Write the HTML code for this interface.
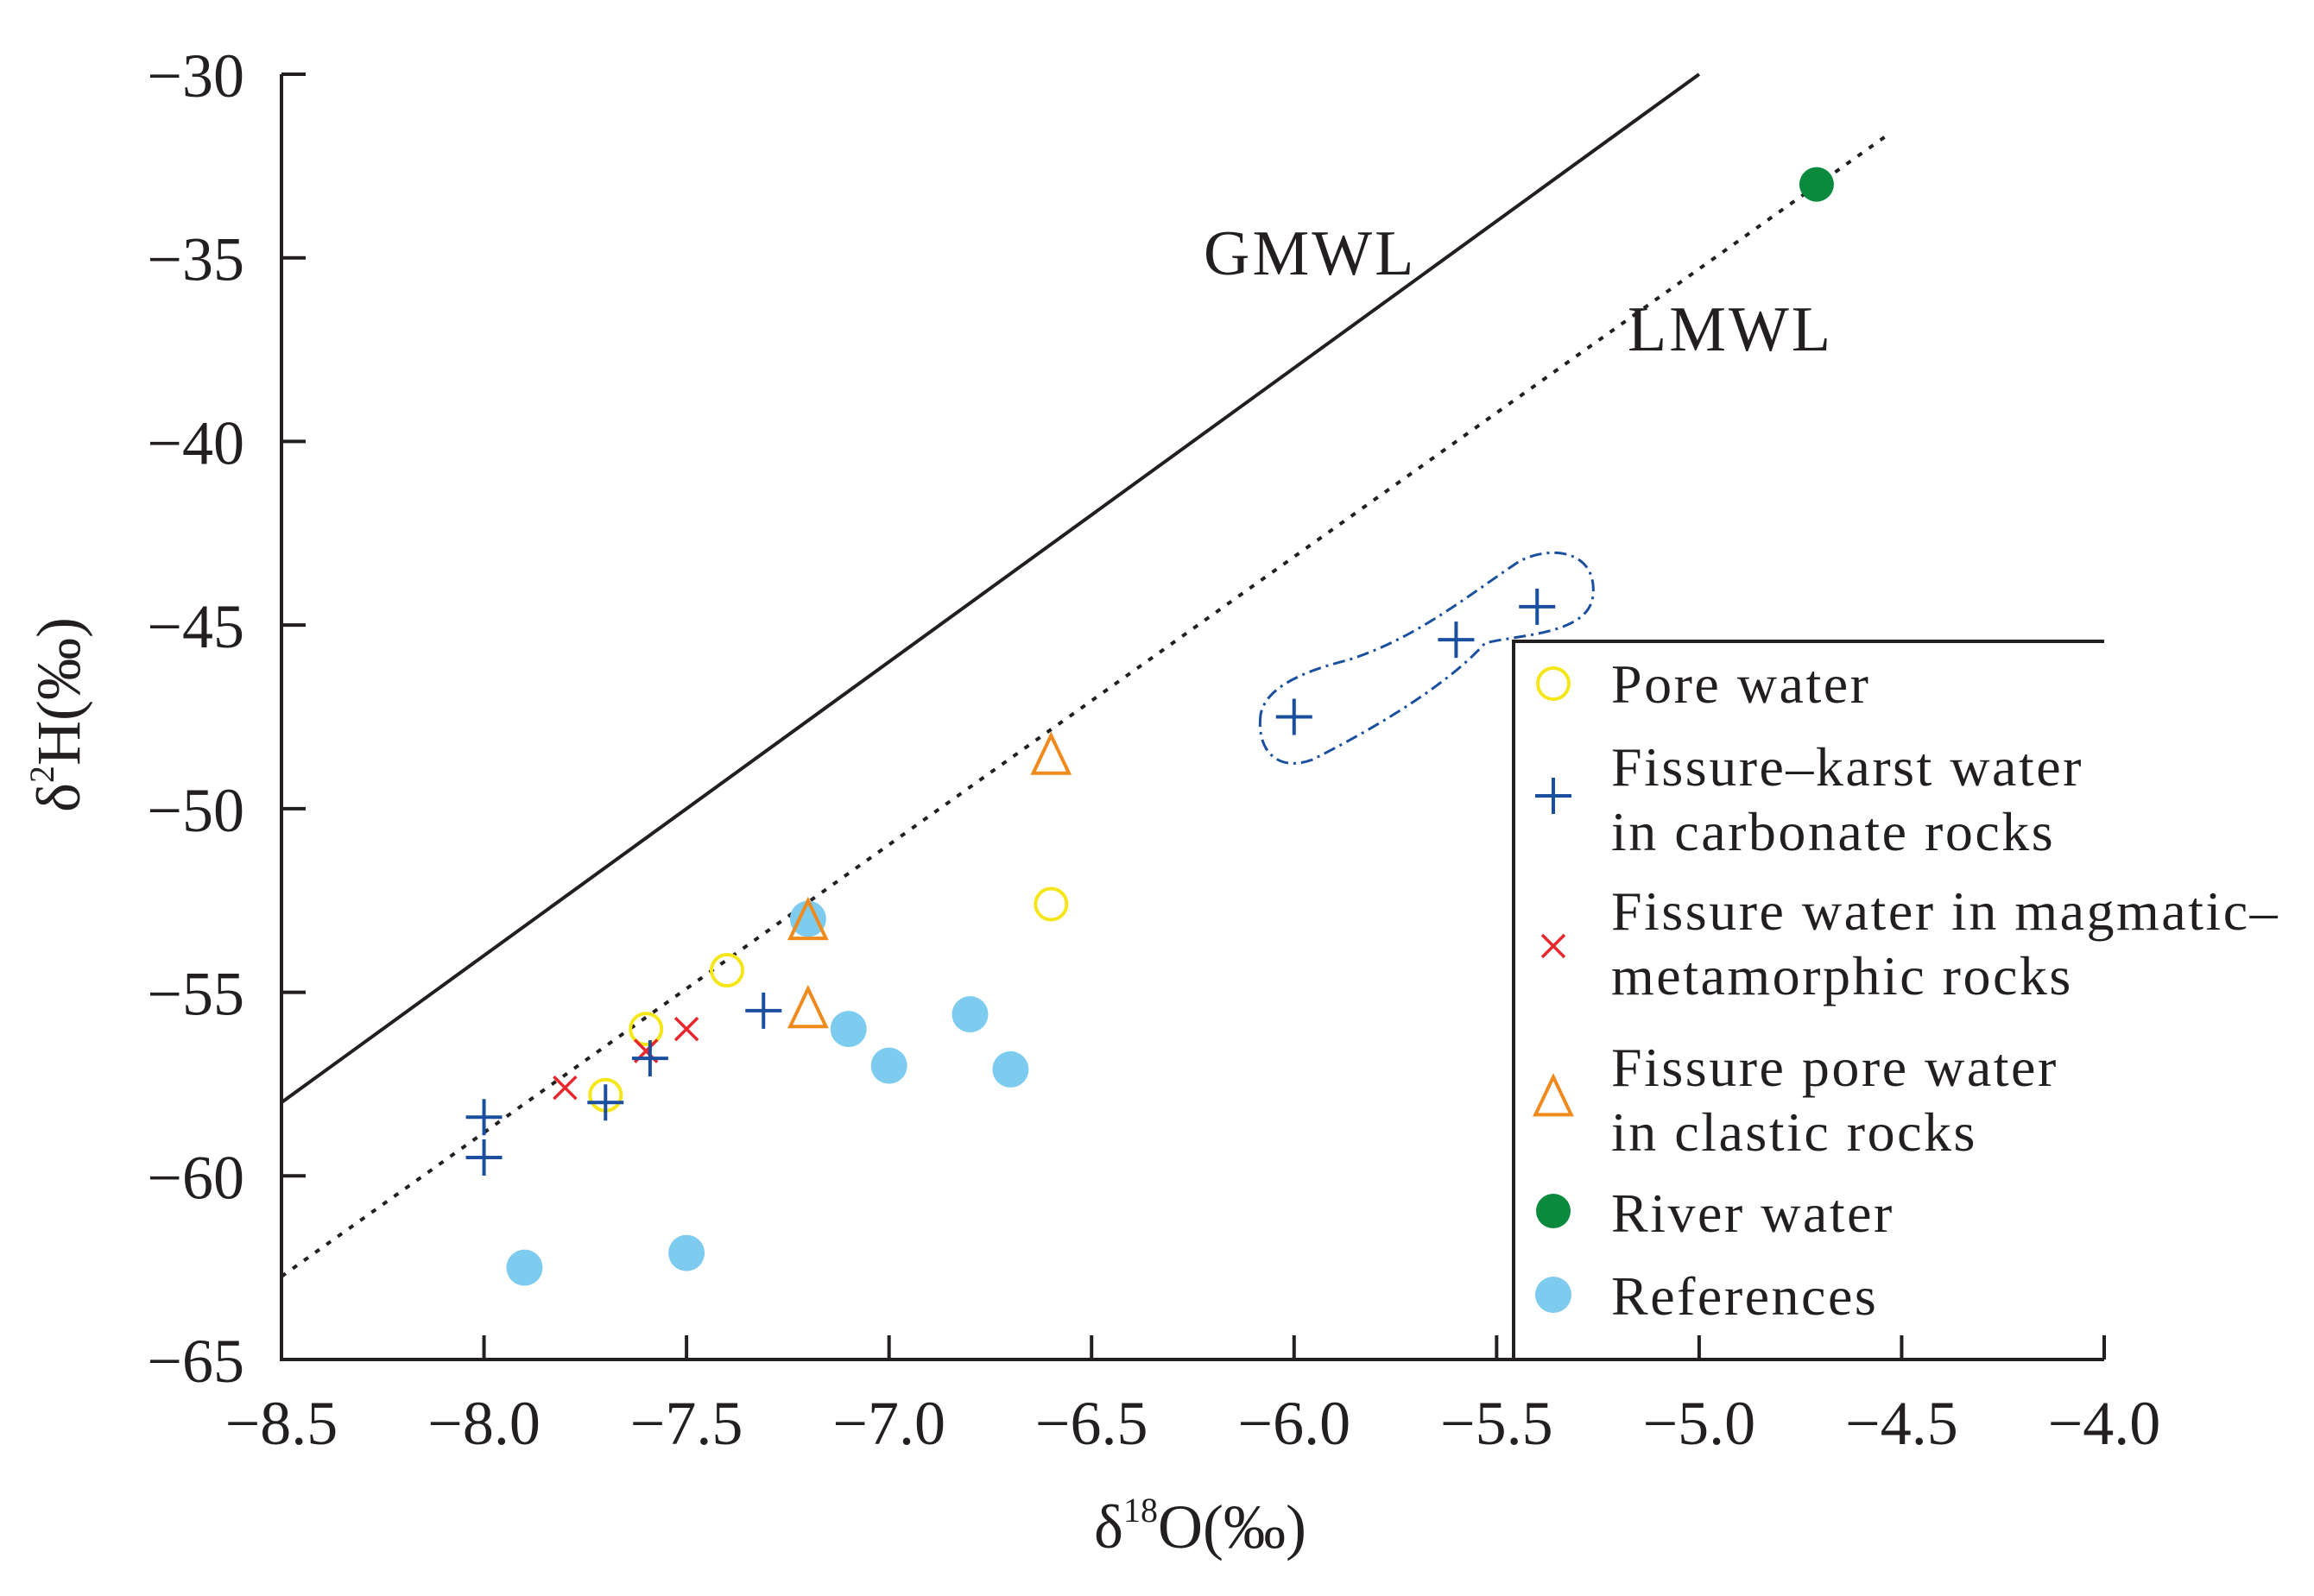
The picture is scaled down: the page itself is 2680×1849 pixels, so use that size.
<!DOCTYPE html>
<html><head><meta charset="utf-8"><style>
html,body{margin:0;padding:0;background:#fff;}
svg text{font-family:"Liberation Serif",serif;fill:#231f20;}
</style></head><body>
<svg id="chart" width="2680" height="1844" viewBox="0 0 2680 1844" xmlns="http://www.w3.org/2000/svg"></svg>
<script>
const xTicks=[-8.5,-8.0,-7.5,-7.0,-6.5,-6.0,-5.5,-5.0,-4.5,-4.0];
const xTickLabels=["−8.5","−8.0","−7.5","−7.0","−6.5","−6.0","−5.5","−5.0","−4.5","−4.0"];
const yTicks=[-30,-35,-40,-45,-50,-55,-60,-65];
const yTickLabels=["−30","−35","−40","−45","−50","−55","−60","−65"];
const poreX=[-7.40,-7.60,-7.70,-6.60];
const poreY=[-54.4,-56.0,-57.8,-52.6];
const carbX=[-8.0,-8.0,-7.7,-7.59,-7.31,-6.0,-5.6,-5.4];
const carbY=[-58.4,-59.5,-58.0,-56.8,-55.5,-47.5,-45.4,-44.5];
const magX=[-7.8,-7.6,-7.5];
const magY=[-57.6,-56.6,-56.0];
const clastX=[-6.6,-7.2,-7.2];
const clastY=[-48.6,-53.1,-55.5];
const riverX=[-4.71];
const riverY=[-33.0];
const refX=[-7.9,-7.5,-7.2,-7.1,-7.0,-6.8,-6.7];
const refY=[-62.5,-62.1,-53.0,-56.0,-57.0,-55.6,-57.1];
const gmwl=[8,10,-8.5,-5.0];       // slope, intercept, x start, x end
const lmwl=[7.84,3.9,-8.5,-4.54];

const X0=326,X1=2437,Y0=86,Y1=1575;
const sx=v=>X0+(v+8.5)/4.5*(X1-X0);
const sy=v=>Y0+(-30-v)/35*(Y1-Y0);
const svg=document.getElementById('chart');
const NS="http://www.w3.org/2000/svg";
function mk(tag,attrs,parent){const e=document.createElementNS(NS,tag);for(const k in attrs)e.setAttribute(k,attrs[k]);(parent||svg).appendChild(e);return e;}

let ax=mk('path',{d:`M${X0},${Y0} V${Y1} H${X1}`,stroke:'#231f20','stroke-width':4,fill:'none'});


xTicks.forEach((t,i)=>{
  const l=mk('line',{x1:sx(t),x2:sx(t),y1:Y1,y2:Y1-28,stroke:'#231f20','stroke-width':4});
  
  
  const tx=mk('text',{x:sx(t),y:1673,'font-size':72,'text-anchor':'middle'});tx.textContent=xTickLabels[i];
  
  
});
yTicks.forEach((t,i)=>{
  const l=mk('line',{x1:X0,x2:X0+28,y1:sy(t),y2:sy(t),stroke:'#231f20','stroke-width':4});
  
  
  const tx=mk('text',{x:283,y:sy(t)+26,'font-size':72,'text-anchor':'end'});tx.textContent=yTickLabels[i];
  
  
});
let xt=mk('text',{x:1390,y:1793,'font-size':72,'text-anchor':'middle'});
xt.innerHTML='δ<tspan font-size="40" dy="-30">18</tspan><tspan dy="30">O(‰)</tspan>';


let yt=mk('text',{x:0,y:0,'font-size':72,'text-anchor':'middle',transform:'translate(92,828) rotate(-90)'});
yt.innerHTML='δ<tspan font-size="40" dy="-30">2</tspan><tspan dy="30">H(‰)</tspan>';



let g=mk('line',{x1:sx(gmwl[2]),y1:sy(gmwl[0]*gmwl[2]+gmwl[1]),x2:sx(gmwl[3]),y2:sy(gmwl[0]*gmwl[3]+gmwl[1]),stroke:'#231f20','stroke-width':4});


let lm=mk('line',{x1:sx(lmwl[2]),y1:sy(lmwl[0]*lmwl[2]+lmwl[1]),x2:sx(lmwl[3]),y2:sy(lmwl[0]*lmwl[3]+lmwl[1]),stroke:'#231f20','stroke-width':4,'stroke-dasharray':'6 10'});


let gl=mk('text',{x:1394,y:318,'font-size':74,'letter-spacing':3});gl.textContent='GMWL';


let ll=mk('text',{x:1885,y:406,'font-size':74,'letter-spacing':3});ll.textContent='LMWL';



let enc=mk('path',{d:'M1460,828 C1455,870 1480,895 1520,880 C1600,840 1680,790 1720,745 C1760,735 1840,735 1845,690 C1850,640 1800,630 1760,650 C1700,690 1640,740 1560,765 C1500,780 1465,800 1460,828 Z',fill:'none',stroke:'#1a4fa0','stroke-width':3,'stroke-dasharray':'14 6 3 6'});



function circle(x,y,r,fill,stroke,sw,parent){return mk('circle',{cx:x,cy:y,r:r,fill:fill,stroke:stroke||'none','stroke-width':sw||0},parent);}
function plus(x,y,s,col,parent){return mk('path',{d:`M${x-s},${y} H${x+s} M${x},${y-s} V${y+s}`,stroke:col,'stroke-width':4,fill:'none'},parent);}
function cross(x,y,s,col,parent){return mk('path',{d:`M${x-s},${y-s} L${x+s},${y+s} M${x+s},${y-s} L${x-s},${y+s}`,stroke:col,'stroke-width':3.5,fill:'none'},parent);}
function tri(x,y,s,col,parent){return mk('path',{d:`M${x},${y-s*1.1} L${x+s*0.9},${y+s*0.8} L${x-s*0.9},${y+s*0.8} Z`,stroke:col,'stroke-width':4,fill:'none'},parent);}

refX.forEach((v,i)=>{const e=circle(sx(v),sy(refY[i]),21,'#7dcbef');
  
  });
clastX.forEach((v,i)=>{const e=tri(sx(v),sy(clastY[i]),23,'#f08a1d');
  
  });
poreX.forEach((v,i)=>{const e=circle(sx(v),sy(poreY[i]),18,'none','#f5e61a',4);
  
  });
magX.forEach((v,i)=>{const e=cross(sx(v),sy(magY[i]),13,'#e8262b');
  
  });
carbX.forEach((v,i)=>{const e=plus(sx(v),sy(carbY[i]),21,'#1a4fa0');
  
  });
riverX.forEach((v,i)=>{const e=circle(sx(v),sy(riverY[i]),20,'#0a8a3c');
  
  });

const lg=mk('g',{});


mk('path',{d:`M${X1},743 H1753 V1575`,stroke:'#231f20','stroke-width':4,fill:'none'},lg);
const MX=1799,TX=1866,FS=64;
function ltext(lines,ys,name){lines.forEach((s,i)=>{const t=mk('text',{x:TX,y:ys[i],'font-size':FS,'letter-spacing':2.5},lg);t.textContent=s;
  
  });}
let m;
m=circle(MX,792,18,'none','#f5e61a',4,lg);


ltext(['Pore water'],[814],'legend-entry-pore');
m=plus(MX,922,21,'#1a4fa0',lg);


ltext(['Fissure–karst water','in carbonate rocks'],[910,985],'legend-entry-carbonate');
m=cross(MX,1096,13,'#e8262b',lg);


ltext(['Fissure water in magmatic–','metamorphic rocks'],[1077,1152],'legend-entry-magmatic');
m=tri(MX,1273,23,'#f08a1d',lg);


ltext(['Fissure pore water','in clastic rocks'],[1258,1333],'legend-entry-clastic');
m=circle(MX,1403,20,'#0a8a3c',null,0,lg);


ltext(['River water'],[1427],'legend-entry-river');
m=circle(MX,1500,21,'#7dcbef',null,0,lg);


ltext(['References'],[1523],'legend-entry-references');
</script>
</body></html>
